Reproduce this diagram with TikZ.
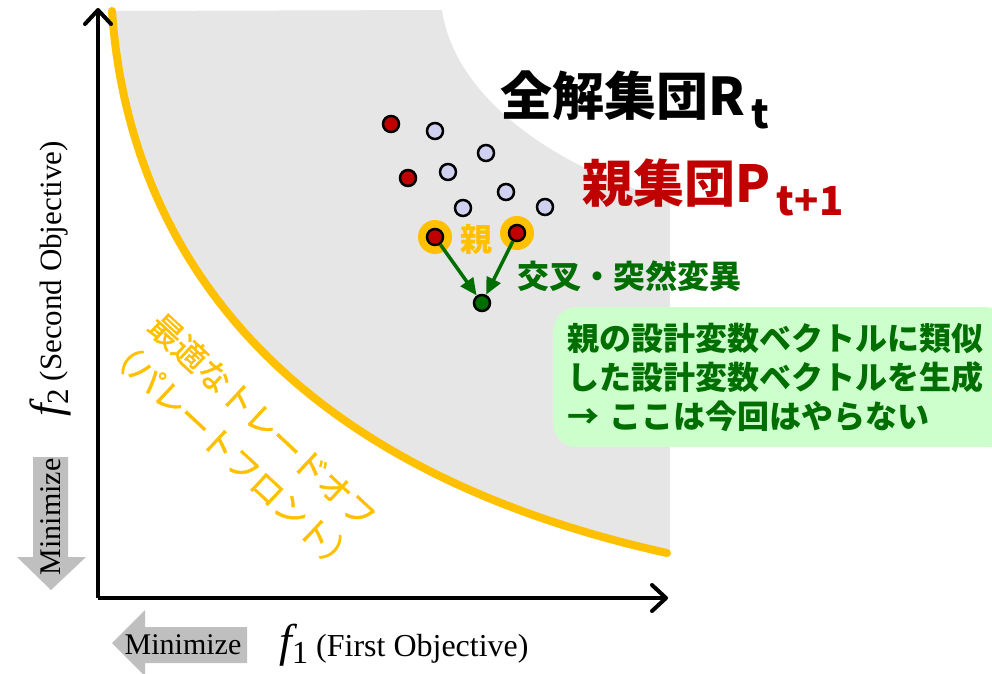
\documentclass[tikz,border=0pt]{standalone}
\usepackage{fontspec}
\setmainfont{Liberation Serif}
\newfontfamily\jp{Noto Sans CJK JP}
\newfontfamily\jpfb{Noto Sans CJK JP}[FakeBold=1.2]
\usetikzlibrary{arrows.meta}
\definecolor{fillgray}{RGB}{230,230,230}
\definecolor{paretoorange}{RGB}{255,192,0}
\definecolor{darkred}{RGB}{192,0,0}
\definecolor{dkgreen}{RGB}{0,110,0}
\definecolor{lav}{RGB}{208,208,240}
\definecolor{notegreen}{RGB}{204,255,204}
\definecolor{arrowgray}{RGB}{191,191,191}
\newcommand{\setfs}[1]{\fontsize{#1}{#1}\selectfont}
\begin{document}
\begin{tikzpicture}[x=1pt,y=-1pt,
  dot/.style={circle, draw=black, line width=2.5pt, minimum size=16pt, inner sep=0pt},
  reddot/.style={dot, fill=darkred},
  lavdot/.style={dot, fill=lav},
  childdot/.style={dot, fill=dkgreen},
  halo/.style={circle, fill=paretoorange, minimum size=34pt, inner sep=0pt},
  axisline/.style={line width=4pt, -{Straight Barb[length=14pt,width=26pt,round]}},
  garrow/.style={draw=dkgreen, line width=3.5pt, -{Triangle[length=17pt,width=15pt]}},
  mingray/.style={fill=arrowgray},
  serifl/.style={font=\setfs{30}, inner sep=0pt},
  pflabel/.style={rotate=-43, font=\jpfb\fontsize{33}{46}\selectfont, text=paretoorange, inner sep=0pt, align=center}]
\useasboundingbox (0,0) rectangle (992,673);
\clip (0,0) rectangle (992,673);

% feasible region
\fill[fillgray] (112,11) -- (442,10) .. controls (455,100) and (560,170) .. (670,200)
  -- (670,550) -- (667,553) .. controls (270,465) and (128,240) .. (112,11) -- cycle;

% Pareto front
\draw[paretoorange, line width=8pt, line cap=round] (112,11) .. controls (128,240) and (270,465) .. (667,553);

% axes
\coordinate (origin) at (98,598);
\coordinate (ytip) at (98,8);
\coordinate (xtip) at (668,598);
\draw[axisline] (origin) -- (ytip);
\draw[axisline] (origin) -- (xtip);

% minimize arrows
\fill[mingray] (33,457) -- (68,457) -- (68,557) -- (86,557) -- (51,590) -- (17,557) -- (33,557) -- cycle;
\node[serifl, rotate=90] (minv) at (51,517) {Minimize};
\fill[mingray] (247,627) -- (247,663) -- (145,663) -- (145,676) -- (112,643) -- (145,610) -- (145,627) -- cycle;
\node[serifl] (minh) at (183,645) {Minimize};

% axis labels
\node[serifl, font=\setfs{31}, rotate=90] (ylab) at (50,279) {{\setfs{45}\itshape f}\raisebox{-7pt}{2} (Second Objective)};
\node[serifl, font=\setfs{32}] (xlab) at (404,645) {{\setfs{46}\itshape f}\raisebox{-7pt}{1} (First Objective)};

% Pareto front label
\node[pflabel] (pf) at (247,438) {最適なトレードオフ\\（パレートフロント）};

% titles
\node[anchor=base west, inner sep=0pt, font=\jp\bfseries\setfs{52}] (rt) at (500,115)
  {全解集団R\raisebox{-13pt}{\setfs{40}\,t}};
\node[anchor=base west, inner sep=0pt, font=\jp\bfseries\setfs{51}, text=darkred] (pt) at (582,202)
  {親集団P\raisebox{-13pt}{\setfs{40}\,t+1}};

% population
\node[lavdot] (l1) at (435,131) {};
\node[lavdot] (l2) at (486,153) {};
\node[lavdot] (l3) at (448,172) {};
\node[lavdot] (l4) at (506,192) {};
\node[lavdot] (l5) at (463,208) {};
\node[lavdot] (l6) at (545,207) {};
\node[reddot] (r1) at (391,124) {};
\node[reddot] (r2) at (408,178) {};
\node[halo] (h1) at (435,237) {};
\node[halo] (h2) at (517,233) {};
\node[reddot] (p1) at (435,237) {};
\node[reddot] (p2) at (517,233) {};
\node[childdot] (c) at (482,303) {};
\draw[garrow] (p1) -- (c);
\draw[garrow] (p2) -- (c);

\node[font=\jp\bfseries\setfs{32}, text=paretoorange, inner sep=0pt] (oya) at (476,239) {親};
\node[anchor=west, font=\jp\bfseries\setfs{32}, text=dkgreen, inner sep=0pt] (cx) at (517,276) {交叉・突然変異};

% note
\node[anchor=north west, fill=notegreen, rounded corners=24pt, minimum height=140pt,
  text width=430pt, inner xsep=14pt, align=left, text=dkgreen,
  font=\jp\bfseries\fontsize{32}{39}\selectfont] (note) at (553,307)
  {親の設計変数ベクトルに類似\\した設計変数ベクトルを生成\\→ ここは今回はやらない};
\end{tikzpicture}
\end{document}
